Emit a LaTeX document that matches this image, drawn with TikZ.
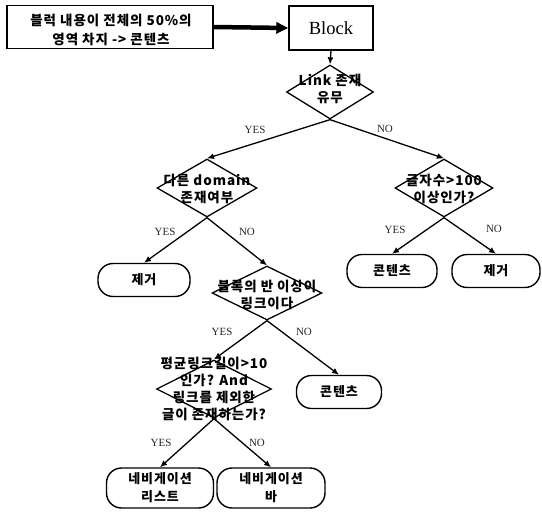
\documentclass[tikz,border=0pt]{standalone}
\usepackage{fontspec}
\setmainfont{Liberation Serif}
\newfontfamily\kr{Noto Sans CJK KR}[LetterSpace=7]
\usetikzlibrary{shapes.geometric,arrows.meta}
\begin{document}
\begin{tikzpicture}[x=1pt,y=-1pt,
  box/.style={draw, line width=1.4pt, inner sep=0pt},
  dia/.style 2 args={draw, diamond, line width=1.3pt, inner sep=0pt, minimum width=#1, minimum height=#2},
  ktxt/.style={font=\kr\bfseries\fontsize{13.5}{17}\selectfont, align=center, inner sep=0pt},
  term/.style 2 args={draw, line width=1.4pt, rounded corners=15pt, inner sep=0pt, align=center,
     minimum width=#1, minimum height=#2, font=\kr\bfseries\fontsize{13}{18}\selectfont},
  lbl/.style={font=\fontsize{11}{12}\selectfont, inner sep=0pt, text=black!85},
  arr/.style={line width=1.3pt, -{Latex[length=7pt,width=6pt]}},
  fat/.style={line width=4.5pt, -{Triangle[length=12pt,width=11pt]}}
]
\useasboundingbox (0,0) rectangle (542,520);

% top
\node[box, minimum width=206pt, minimum height=43pt] (top) at (110,27) {};
\node[ktxt, font=\kr\bfseries\fontsize{13.5}{19}\selectfont] (toptxt) at (111,30) {블럭 내용이 전체의 50\%의\\영역 차지 -> 콘텐츠};
\node[box, minimum width=84pt, minimum height=44pt, font=\fontsize{18.5}{20}\selectfont] (block) at (331,28) {Block};

% diamonds
\node[dia={87pt}{54pt}] (d1) at (330,92) {};
\node[ktxt] (t1txt) at (330,89) {Link 존재\\유무};
\node[dia={100pt}{58pt}] (d2) at (207,188) {};
\node[ktxt] (t2txt) at (207,189) {다른 domain\\존재여부};
\node[dia={98pt}{58pt}] (d3) at (444,188) {};
\node[ktxt] (t3txt) at (444,189) {글자수>100\\이상인가?};
\node[dia={110pt}{54pt}] (d4) at (267,293) {};
\node[ktxt] (t4txt) at (267,295) {블록의 반 이상이\\링크이다};
\node[dia={115pt}{58pt}] (d5) at (214,389) {};
\node[ktxt] (t5txt) at (214,389) {평균링크길이>10\\인가? And\\링크를 제외한\\글이 존재하는가?};

% terminals
\node[term={92pt}{33pt}] (e1) at (144,280) {제거};
\node[term={90pt}{33pt}] (c1) at (392,271) {콘텐츠};
\node[term={88pt}{33pt}] (e2) at (496,271) {제거};
\node[term={85pt}{33pt}] (c2) at (339,392) {콘텐츠};
\node[term={107pt}{40pt}] (n1) at (160,488) {네비게이션\\리스트};
\node[term={108pt}{40pt}] (n2) at (271,488) {네비게이션\\바};

% connectors
\draw[fat] (top.east) -- (block.west);
\draw[arr] (block.south) -- (d1.north);
\draw[arr] (d1.south) -- (d2.north);
\draw[arr] (d1.south) -- (d3.north);
\draw[arr] (d2.south) -- (e1.north);
\draw[arr] (d2.south) -- (d4.north);
\draw[arr] (d3.south) -- (c1.north);
\draw[arr] (d3.south) -- (e2.north);
\draw[arr] (d4.south) -- (d5.north);
\draw[arr] (d4.south) -- (c2.north);
\draw[arr] (d5.south) -- (n1.north);
\draw[arr] (d5.south) -- (n2.north);

% labels
\node[lbl] (l1) at (255,130) {YES};
\node[lbl] (l2) at (385,129) {NO};
\node[lbl] (l3) at (165,232) {YES};
\node[lbl] (l4) at (247,232) {NO};
\node[lbl] (l5) at (395,230) {YES};
\node[lbl] (l6) at (494,229) {NO};
\node[lbl] (l7) at (222,332) {YES};
\node[lbl] (l8) at (304,332) {NO};
\node[lbl] (l9) at (161,443) {YES};
\node[lbl] (l10) at (257,443) {NO};
\end{tikzpicture}
\end{document}
